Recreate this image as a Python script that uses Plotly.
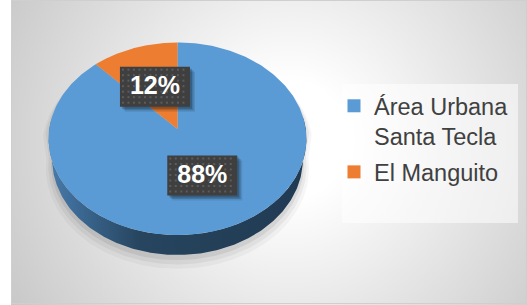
import numpy as np
import plotly.graph_objects as go

# ---- data ----
categories = ["Área Urbana<br>Santa Tecla", "El Manguito"]
values = [88, 12]
label_texts = ["88%", "12%"]
colors = ["#5B9BD5", "#ED7D31"]
side_scales = [
    [[0, "#4A7BAA"], [0.12, "#3B6892"], [0.35, "#27455F"], [1, "#203A52"]],
    [[0, "#C0652A"], [0.35, "#8F4A1E"], [1, "#7A3F19"]],
]

# ---- layout / projection parameters ----
W, H = 527, 305
CX, CY = 177.5, 129.0      # projected pie centre (px)
FOC = 849.0                # focal scale
DIST = 6.62                # camera distance (in radii)
PHI = np.radians(48)       # tilt
DEPTH = 0.25               # pie thickness (in radii)
FONT = "Liberation Sans, Arial, sans-serif"


def project(x, yd, z):
    c, s = np.cos(PHI), np.sin(PHI)
    d = DIST + yd * c - z * s
    return CX + FOC * x / d, CY - FOC * (yd * s + z * c) / d


fig = go.Figure()

# background radial gradient (clipped to plot area)
GX, GY, GR = 290, 140, 320
fig.add_trace(go.Scatter(
    x=[GX - GR, GX + GR, GX + GR, GX - GR, GX - GR],
    y=[GY - GR, GY - GR, GY + GR, GY + GR, GY - GR],
    mode="lines", line=dict(width=0), fill="toself",
    fillgradient=dict(type="radial",
                      colorscale=[[0, "#FFFFFF"], [0.18, "#FFFFFF"], [1, "#C9C9C9"]]),
    hoverinfo="skip", showlegend=False))

# slice angles (clockwise from 12 o'clock)
total = float(sum(values))
arcs = []
a0 = np.pi / 2
for v in values:
    a1 = a0 - 2 * np.pi * v / total
    arcs.append((a0, a1))
    a0 = a1

# soft shadow under the pie
tt = np.linspace(0, 2 * np.pi, 240)
for k, alpha, dy in [(1.05, 0.035, 8), (1.03, 0.05, 6), (1.01, 0.07, 4)]:
    xs_t, ys_t = project(k * np.cos(tt), k * np.sin(tt), 0)
    xs_b, ys_b = project(k * np.cos(tt), k * np.sin(tt), -DEPTH)
    front = np.sin(tt) <= 0
    sx = np.concatenate([xs_t[~front], xs_b[front]])
    sy = np.concatenate([ys_t[~front], ys_b[front]]) + dy
    ang = np.concatenate([tt[~front], tt[front]])
    o = np.argsort(ang)
    fig.add_trace(go.Scatter(x=list(sx[o]) + [sx[o][0]], y=list(sy[o]) + [sy[o][0]],
                             mode="lines", line=dict(width=0), fill="toself",
                             fillcolor=f"rgba(0,0,0,{alpha})",
                             hoverinfo="skip", showlegend=False))

# pie side (front wall)
for i, (s0, s1) in enumerate(arcs):
    t = np.linspace(s0, s1, 400)
    mask = np.sin(t) <= 0.12
    if mask.sum() < 2:
        continue
    ts = t[mask]
    xt, yt = project(np.cos(ts), np.sin(ts), 0)
    xb, yb = project(np.cos(ts[::-1]), np.sin(ts[::-1]), -DEPTH)
    fig.add_trace(go.Scatter(
        x=list(xt) + list(xb) + [xt[0]], y=list(yt) + list(yb) + [yt[0]],
        mode="lines", line=dict(width=0), fill="toself",
        fillgradient=dict(type="horizontal", colorscale=side_scales[i]),
        hoverinfo="skip", showlegend=False))

# pie top faces
for i, (s0, s1) in enumerate(arcs):
    t = np.linspace(s0, s1, 300)
    px, py = project(np.cos(t), np.sin(t), 0)
    ox, oy = project(0, 0, 0)
    fig.add_trace(go.Scatter(
        x=[ox] + list(px) + [ox], y=[oy] + list(py) + [oy],
        mode="lines", line=dict(width=0), fill="toself", fillcolor=colors[i],
        hoverinfo="skip", showlegend=False))

# data labels (dark boxes with dotted texture)
BW, BH = 70, 40
for i, (s0, s1) in enumerate(arcs):
    m = (s0 + s1) / 2
    lx, ly = project(0.5 * np.cos(m), 0.5 * np.sin(m), 0)
    for sh, al in [(5, 0.10), (3.5, 0.15), (2, 0.2)]:
        fig.add_trace(go.Scatter(
            x=[lx - BW / 2 + sh, lx + BW / 2 + sh, lx + BW / 2 + sh, lx - BW / 2 + sh, lx - BW / 2 + sh],
            y=[ly - BH / 2 + sh, ly - BH / 2 + sh, ly + BH / 2 + sh, ly + BH / 2 + sh, ly - BH / 2 + sh],
            mode="lines", line=dict(width=0), fill="toself", fillcolor=f"rgba(0,0,0,{al})",
            hoverinfo="skip", showlegend=False))
    fig.add_trace(go.Scatter(
        x=[lx - BW / 2, lx + BW / 2, lx + BW / 2, lx - BW / 2, lx - BW / 2],
        y=[ly - BH / 2, ly - BH / 2, ly + BH / 2, ly + BH / 2, ly - BH / 2],
        mode="lines", line=dict(width=0), fill="toself", fillcolor="#3F3F3F",
        hoverinfo="skip", showlegend=False))
    gx, gy = np.meshgrid(np.arange(lx - BW / 2 + 3, lx + BW / 2 - 1, 5.5),
                         np.arange(ly - BH / 2 + 3, ly + BH / 2 - 1, 5.5))
    fig.add_trace(go.Scatter(
        x=gx.ravel(), y=gy.ravel(), mode="markers",
        marker=dict(symbol="square", size=2, color="#5C5C5C", line=dict(width=0)),
        hoverinfo="skip", showlegend=False))
    fig.add_trace(go.Scatter(
        x=[lx], y=[ly + 1], mode="text", text=[label_texts[i]],
        textposition="middle center",
        textfont=dict(family=FONT, size=25, color="white", weight="bold"),
        hoverinfo="skip", showlegend=False))

# legend entries
for i, cat in enumerate(categories):
    fig.add_trace(go.Scatter(
        x=[None], y=[None], mode="markers", name=cat, legendgroup=f"g{i}",
        marker=dict(symbol="square", size=13, color=colors[i], line=dict(width=0))))

fig.update_layout(
    width=W, height=H, margin=dict(l=0, r=0, t=0, b=0),
    paper_bgcolor="white", plot_bgcolor="rgba(0,0,0,0)",
    xaxis=dict(range=[11, W], domain=[11 / W, 1], visible=False, fixedrange=True),
    yaxis=dict(range=[H, 0], visible=False, fixedrange=True),
    showlegend=True,
    legend=dict(x=334 / W, y=1 - 84 / H, xanchor="left", yanchor="top",
                bgcolor="rgba(0,0,0,0)", borderwidth=0,
                font=dict(family=FONT, size=23.5, color="#404040"),
                valign="top", tracegroupgap=2, itemclick=False, itemdoubleclick=False),
    shapes=[
        dict(type="rect", xref="x", yref="y", x0=342, y0=84, x1=518, y1=223,
             line=dict(width=0), fillcolor="rgba(255,255,255,0.55)", layer="above"),
        dict(type="rect", xref="x", yref="y", x0=11.5, y0=0.5, x1=526.5, y1=303.5,
             line=dict(color="#CFCFCF", width=1), fillcolor="rgba(0,0,0,0)", layer="above"),
    ],
)

fig.write_html("out.html", config={"displayModeBar": False, "staticPlot": True},
               post_script="document.body.style.margin='0px';document.body.style.overflow='hidden';")
